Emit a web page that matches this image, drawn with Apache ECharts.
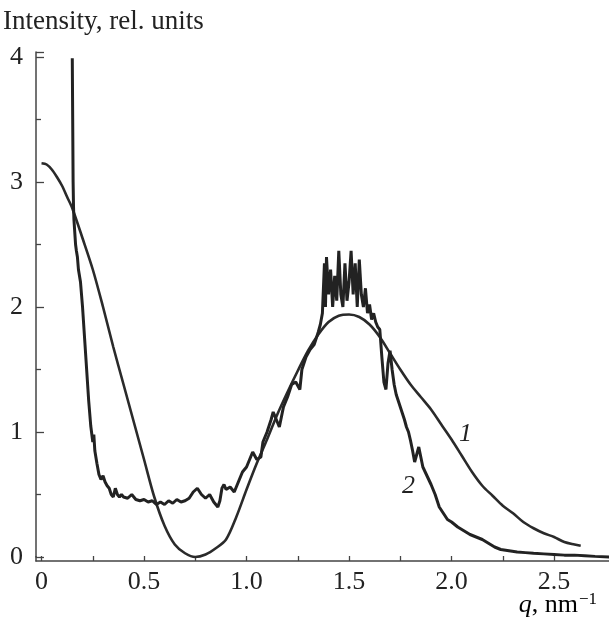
<!DOCTYPE html>
<html>
<head>
<meta charset="utf-8">
<script src="https://cdn.jsdelivr.net/npm/echarts@6/dist/echarts.min.js"></script>
<style>
html,body{margin:0;padding:0;background:#fff;}
#chart{width:609px;height:627px;}
</style>
</head>
<body>
<div id="chart"></div>
<script>
// Curve 1 (smooth)
const q1 = [0, 0.025, 0.05, 0.075, 0.1, 0.125, 0.15, 0.2, 0.25, 0.3, 0.35, 0.4, 0.45, 0.5, 0.55, 0.6, 0.65, 0.7, 0.75, 0.8, 0.85, 0.9, 0.95, 1.0, 1.05, 1.1, 1.15, 1.2, 1.25, 1.3, 1.35, 1.4, 1.45, 1.5, 1.55, 1.6, 1.65, 1.7, 1.75, 1.8, 1.85, 1.9, 1.95, 2.0, 2.05, 2.1, 2.15, 2.2, 2.25, 2.3, 2.35, 2.4, 2.45, 2.5, 2.55, 2.6, 2.63];
const i1 = [3.15, 3.14, 3.10, 3.04, 2.97, 2.88, 2.79, 2.55, 2.30, 2.00, 1.68, 1.38, 1.08, 0.78, 0.48, 0.25, 0.10, 0.03, 0.00, 0.02, 0.07, 0.14, 0.32, 0.54, 0.75, 0.94, 1.14, 1.32, 1.49, 1.65, 1.78, 1.88, 1.93, 1.94, 1.92, 1.86, 1.76, 1.63, 1.50, 1.38, 1.28, 1.18, 1.06, 0.94, 0.81, 0.68, 0.57, 0.49, 0.41, 0.35, 0.28, 0.23, 0.19, 0.16, 0.12, 0.10, 0.09];

// Curve 2 (experimental, noisy)
const q2 = [0.150, 0.152, 0.154, 0.156, 0.158, 0.162, 0.166, 0.17, 0.175, 0.18, 0.19, 0.2, 0.21, 0.22, 0.23, 0.24, 0.25, 0.255, 0.26, 0.27, 0.28, 0.29, 0.30, 0.31, 0.32, 0.33, 0.34, 0.35, 0.36, 0.37, 0.38, 0.39, 0.40, 0.42, 0.44, 0.46, 0.48, 0.50, 0.52, 0.54, 0.56, 0.58, 0.60, 0.62, 0.64, 0.66, 0.68, 0.70, 0.72, 0.74, 0.76, 0.78, 0.80, 0.82, 0.84, 0.86, 0.87, 0.88, 0.89, 0.90, 0.92, 0.94, 0.96, 0.98, 1.00, 1.02, 1.03, 1.05, 1.07, 1.08, 1.10, 1.12, 1.13, 1.15, 1.16, 1.18, 1.20, 1.22, 1.24, 1.26, 1.27, 1.29, 1.31, 1.33, 1.35, 1.36, 1.37, 1.38, 1.385, 1.39, 1.40, 1.41, 1.42, 1.43, 1.44, 1.45, 1.46, 1.47, 1.48, 1.49, 1.50, 1.51, 1.52, 1.53, 1.54, 1.55, 1.56, 1.57, 1.58, 1.59, 1.60, 1.61, 1.62, 1.63, 1.64, 1.65, 1.66, 1.67, 1.68, 1.69, 1.70, 1.71, 1.72, 1.73, 1.74, 1.75, 1.76, 1.77, 1.78, 1.79, 1.80, 1.81, 1.82, 1.83, 1.84, 1.85, 1.86, 1.88, 1.90, 1.92, 1.94, 1.96, 1.98, 2.00, 2.03, 2.06, 2.09, 2.12, 2.15, 2.18, 2.21, 2.24, 2.28, 2.32, 2.36, 2.40, 2.45, 2.50, 2.55, 2.60, 2.65, 2.70, 2.77];
const i2 = [3.99, 3.5, 3.0, 2.8, 2.7, 2.6, 2.5, 2.45, 2.4, 2.3, 2.2, 2.0, 1.75, 1.5, 1.25, 1.05, 0.92, 0.98, 0.85, 0.75, 0.66, 0.62, 0.65, 0.6, 0.57, 0.55, 0.5, 0.48, 0.55, 0.5, 0.48, 0.5, 0.48, 0.47, 0.5, 0.46, 0.45, 0.46, 0.44, 0.45, 0.42, 0.44, 0.42, 0.45, 0.43, 0.46, 0.44, 0.45, 0.47, 0.52, 0.55, 0.5, 0.47, 0.5, 0.44, 0.40, 0.45, 0.55, 0.58, 0.54, 0.56, 0.52, 0.6, 0.68, 0.72, 0.8, 0.84, 0.78, 0.8, 0.92, 1.0, 1.1, 1.16, 1.08, 1.04, 1.2, 1.28, 1.38, 1.4, 1.34, 1.5, 1.6, 1.66, 1.7, 1.8, 1.86, 1.95, 2.35, 2.0, 2.4, 2.1, 2.3, 2.0, 2.25, 2.05, 2.45, 2.1, 2.0, 2.35, 2.05, 2.2, 2.45, 2.1, 2.35, 2.0, 2.38, 2.1, 2.0, 2.15, 1.95, 2.02, 1.9, 1.95, 1.88, 1.84, 1.82, 1.6, 1.4, 1.34, 1.55, 1.65, 1.5, 1.38, 1.3, 1.25, 1.2, 1.15, 1.1, 1.04, 1.0, 0.93, 0.85, 0.76, 0.82, 0.88, 0.8, 0.72, 0.65, 0.58, 0.5, 0.4, 0.35, 0.3, 0.28, 0.24, 0.21, 0.18, 0.16, 0.14, 0.11, 0.08, 0.06, 0.05, 0.04, 0.035, 0.03, 0.025, 0.02, 0.015, 0.015, 0.01, 0.005, 0.0];

const xTicks = [0, 0.25, 0.5, 0.75, 1.0, 1.25, 1.5, 1.75, 2.0, 2.25, 2.5];
const xLabels = [0, 0.5, 1.0, 1.5, 2.0, 2.5];

const FONT = '"Liberation Serif", "DejaVu Serif", serif';
const INK = '#222';
const AX = '#444';

const chart = echarts.init(document.getElementById('chart'));
chart.setOption({
  animation: false,
  backgroundColor: '#fff',
  grid: { left: 36, right: 0, top: 52, bottom: 70, containLabel: false },
  xAxis: {
    type: 'value', min: -0.027, max: 2.768, offset: 4,
    axisLine: { show: true, onZero: false, lineStyle: { color: AX, width: 1.5 } },
    axisTick: { show: true, inside: true, length: 5, customValues: xTicks, lineStyle: { color: AX, width: 1.3 } },
    axisLabel: { show: true, customValues: xLabels, margin: 8, fontFamily: FONT, fontSize: 26, color: INK,
      formatter: v => (v === 0 ? '0' : v.toFixed(1)) },
    splitLine: { show: false }
  },
  yAxis: {
    type: 'value', min: 0, max: 4.04, interval: 1,
    axisLine: { show: true, onZero: false, lineStyle: { color: AX, width: 1.5 } },
    axisTick: { show: true, inside: true, length: 8, lineStyle: { color: AX, width: 1.3 } },
    minorTick: { show: true, splitNumber: 2, length: 5, lineStyle: { color: AX, width: 1.3 } },
    axisLabel: { show: true, margin: 13, fontFamily: FONT, fontSize: 26, color: INK, showMaxLabel: false },
    splitLine: { show: false }
  },
  series: [{
    type: 'line', name: '1',
    data: q1.map((q, k) => [q, i1[k]]),
    showSymbol: false, smooth: 0.3, clip: false,
    lineStyle: { color: '#2a2a2a', width: 2.6 }
  }, {
    type: 'line', name: '2',
    data: q2.map((q, k) => [q, i2[k]]),
    showSymbol: false, clip: false,
    lineStyle: { color: '#222', width: 3 }
  }],
  graphic: [
    { type: 'line', shape: { x1: 36, y1: 556, x2: 36, y2: 561.5 }, style: { stroke: AX, lineWidth: 1.5 } },
    { type: 'text', left: 3, top: 8, style: { text: 'Intensity, rel. units', font: '27px ' + FONT, fill: INK } },
    { type: 'text', left: 459, top: 421, style: { text: '1', font: 'italic 26px ' + FONT, fill: INK } },
    { type: 'text', left: 402, top: 473, style: { text: '2', font: 'italic 26px ' + FONT, fill: INK } },
    { type: 'text', right: 12, top: 591, style: {
      text: '{i|q}{r|, nm}{s|−1}',
      rich: {
        i: { fontFamily: FONT, fontStyle: 'italic', fontSize: 26, color: INK },
        r: { fontFamily: FONT, fontSize: 26, color: INK },
        s: { fontFamily: FONT, fontSize: 17, color: INK, verticalAlign: 'top', padding: [0, 0, 12, 1] }
      }
    } }
  ]
});
</script>
</body>
</html>
